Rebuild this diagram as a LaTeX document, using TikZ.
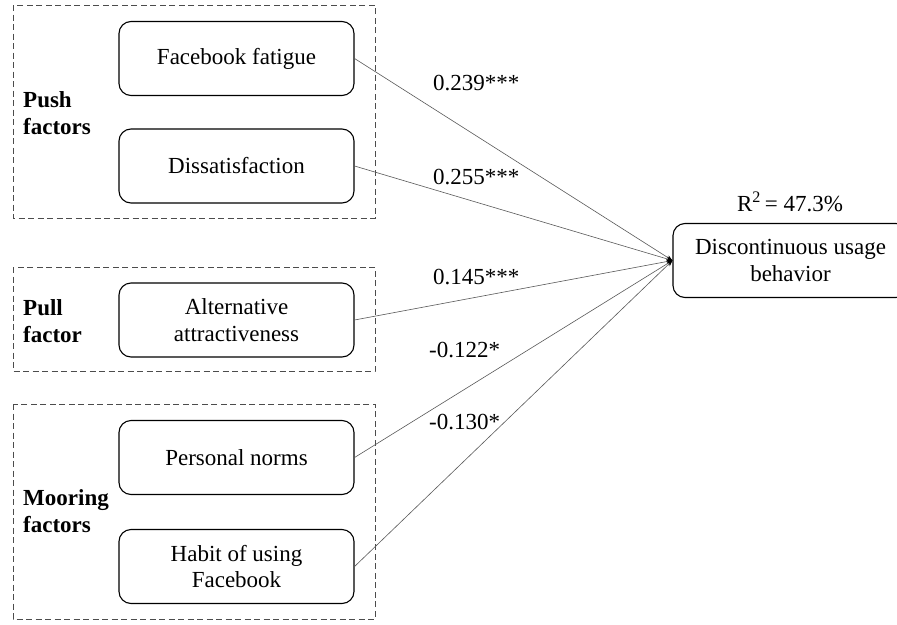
\documentclass[tikz,border=0pt]{standalone}
\usepackage{fontspec}
\setmainfont{Liberation Serif}
\usetikzlibrary{arrows.meta}
\tikzset{
  factorbox/.style={draw=black, line width=1.1pt, rounded corners=12pt, minimum width=235pt, minimum height=74pt, align=center, inner sep=0pt, font=\fontsize{23}{26.5}\selectfont},
  groupbox/.style={draw=black!70, line width=0.9pt, dash pattern=on 6pt off 3.5pt},
  grouplabel/.style={anchor=west, align=left, inner sep=0pt, font=\fontsize{23}{27}\selectfont\bfseries},
  pathlabel/.style={anchor=west, inner sep=0pt, font=\fontsize{23}{26.5}\selectfont},
  link/.style={draw=black!65, line width=0.6pt, -{Stealth[length=6pt,width=4.5pt,black]}}
}
\begin{document}
\begin{tikzpicture}[x=1pt,y=-1pt]
\clip (0,0) rectangle (897,624);
\fill[white] (0,0) rectangle (897,624);
% group frames
\draw[groupbox] (13,5) rectangle (375,218);
\draw[groupbox] (13,267) rectangle (375,371);
\draw[groupbox] (13,404) rectangle (375,619);
% group labels
\node[grouplabel] (push) at (23,113.5) {Push\\factors};
\node[grouplabel] (pull) at (23,321) {Pull\\factor};
\node[grouplabel] (moor) at (23,511.5) {Mooring\\factors};
% factor boxes
\node[factorbox] (ff) at (236.5,58.5) {Facebook fatigue};
\node[factorbox] (ds) at (236.5,166) {Dissatisfaction};
\node[factorbox] (aa) at (236.5,320) {Alternative\\attractiveness};
\node[factorbox] (pn) at (236.5,457.5) {Personal norms};
\node[factorbox] (hb) at (236.5,566.5) {Habit of using\\Facebook};
% outcome
\node[factorbox] (du) at (790.5,260.5) {Discontinuous usage\\behavior};
\node[font=\fontsize{23}{26.5}\selectfont, inner sep=0pt] (r2) at (790,202) {R\textsuperscript{2}\,= 47.3\%};
% paths
\draw[link] (ff.east) -- (du.west);
\draw[link] (ds.east) -- (du.west);
\draw[link] (aa.east) -- (du.west);
\draw[link] (pn.east) -- (du.west);
\draw[link] (hb.east) -- (du.west);
% path labels
\node[pathlabel] (l1) at (433,83) {0.239***};
\node[pathlabel] (l2) at (433,177) {0.255***};
\node[pathlabel] (l3) at (433,277) {0.145***};
\node[pathlabel] (l4) at (429,350) {-0.122*};
\node[pathlabel] (l5) at (429,422) {-0.130*};
\end{tikzpicture}
\end{document}
